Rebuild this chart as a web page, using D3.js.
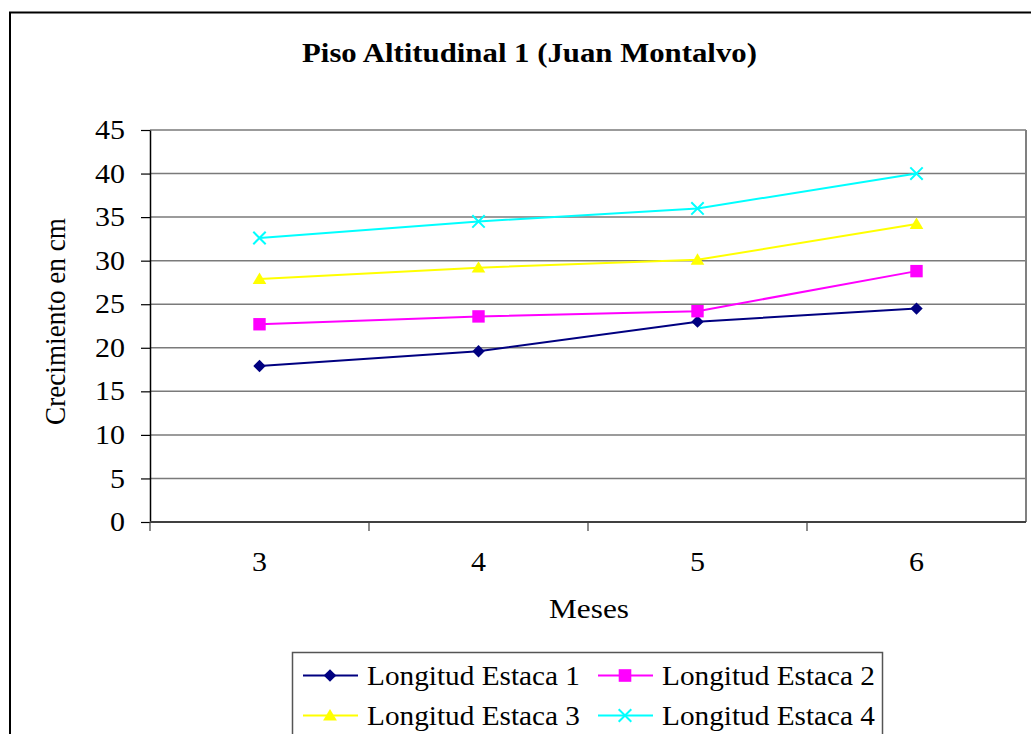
<!DOCTYPE html>
<html>
<head>
<meta charset="utf-8">
<script src="https://cdn.jsdelivr.net/npm/d3@7"></script>
<style>
  html, body { margin: 0; padding: 0; background: #fff; }
  svg { display: block; }
  text { font-family: "Liberation Serif", "Times New Roman", serif; fill: #000; }
</style>
</head>
<body>
<svg id="chart" width="1031" height="734"></svg>
<script>
// Months measured
const months = ["3", "4", "5", "6"];
// Stake length growth (cm) per series
const estaca1 = [17.9, 19.6, 23.0, 24.5];
const estaca2 = [22.7, 23.6, 24.2, 28.8];
const estaca3 = [27.9, 29.2, 30.1, 34.2];
const estaca4 = [32.6, 34.5, 36.0, 40.0];
const seriesNames = ["Longitud Estaca 1", "Longitud Estaca 2", "Longitud Estaca 3", "Longitud Estaca 4"];
const yTicks = [0, 5, 10, 15, 20, 25, 30, 35, 40, 45];

const series = [
  { name: seriesNames[0], values: estaca1, color: "#000080", marker: "diamond" },
  { name: seriesNames[1], values: estaca2, color: "#FF00FF", marker: "square" },
  { name: seriesNames[2], values: estaca3, color: "#FFFF00", marker: "triangle" },
  { name: seriesNames[3], values: estaca4, color: "#00FFFF", marker: "cross" }
];

const FONT = 27;      // base text size
const WIDEN = 1.11;   // text is set slightly wide

const svg = d3.select("#chart");
const plot = { left: 150, right: 1026, top: 130, bottom: 522 };

// Stretch text horizontally by a factor, keeping its anchor
function widen(sel, k) {
  sel.each(function () {
    const w = this.getComputedTextLength();
    d3.select(this).attr("textLength", w * k).attr("lengthAdjust", "spacingAndGlyphs");
  });
}

// Outer chart frame (extends past the page edge)
svg.append("rect")
  .attr("x", 10).attr("y", 12.5)
  .attr("width", 1040).attr("height", 760)
  .attr("fill", "#fff").attr("stroke", "#000").attr("stroke-width", 2);

// Title
svg.append("text")
  .attr("x", 529.5).attr("y", 62)
  .attr("text-anchor", "middle")
  .attr("font-weight", "bold")
  .attr("font-size", FONT)
  .text("Piso Altitudinal 1 (Juan Montalvo)")
  .call(widen, 1.14);

const x = d3.scaleBand().domain(months).range([plot.left, plot.right]).padding(0);
const y = d3.scaleLinear().domain([0, 45]).range([plot.bottom, plot.top]);

// Horizontal gridlines
svg.append("g").selectAll("line")
  .data(yTicks.filter(d => d > 0))
  .join("line")
  .attr("x1", plot.left).attr("x2", plot.right)
  .attr("y1", d => y(d)).attr("y2", d => y(d))
  .attr("stroke", "#7a7a7a").attr("stroke-width", 1.5);

// Plot area right border
svg.append("line")
  .attr("x1", plot.right).attr("x2", plot.right)
  .attr("y1", plot.top).attr("y2", plot.bottom)
  .attr("stroke", "#808080").attr("stroke-width", 2);

// Y axis
const yAxis = svg.append("g")
  .attr("transform", `translate(${plot.left},0)`)
  .call(d3.axisLeft(y).tickValues(yTicks).tickSize(9).tickPadding(16).tickSizeOuter(0));
yAxis.select(".domain").attr("stroke", "#000").attr("stroke-width", 1.5);
yAxis.selectAll(".tick line").attr("stroke", "#000").attr("stroke-width", 1.2);
yAxis.selectAll(".tick text")
  .attr("font-family", "Liberation Serif, serif")
  .attr("font-size", FONT).attr("fill", "#000")
  .call(widen, WIDEN);

// X axis: ticks at category boundaries, labels centred in each band
const bounds = months.map(m => x(m));
svg.append("g").selectAll("line")
  .data(bounds)
  .join("line")
  .attr("x1", d => d).attr("x2", d => d)
  .attr("y1", plot.bottom).attr("y2", plot.bottom + 9)
  .attr("stroke", "#404040").attr("stroke-width", 1.2);
svg.append("line")
  .attr("x1", plot.left).attr("x2", plot.right)
  .attr("y1", plot.bottom).attr("y2", plot.bottom)
  .attr("stroke", "#404040").attr("stroke-width", 2);
svg.append("g").selectAll("text")
  .data(months)
  .join("text")
  .attr("x", d => x(d) + x.bandwidth() / 2)
  .attr("y", 571)
  .attr("text-anchor", "middle")
  .attr("font-size", FONT)
  .text(d => d)
  .call(widen, WIDEN);

// Axis titles
svg.append("text")
  .attr("x", 589).attr("y", 618)
  .attr("text-anchor", "middle")
  .attr("font-size", FONT)
  .text("Meses")
  .call(widen, 1.16);
svg.append("text")
  .attr("transform", "translate(65,321.5) scale(1.12,1) rotate(-90)")
  .attr("text-anchor", "middle")
  .attr("font-size", FONT)
  .attr("textLength", 207)
  .attr("lengthAdjust", "spacingAndGlyphs")
  .text("Crecimiento en cm");

// Marker drawing helper
function drawMarker(g, type, color, cx, cy, s) {
  if (type === "diamond") {
    g.append("path")
      .attr("d", `M${cx},${cy - s}L${cx + s},${cy}L${cx},${cy + s}L${cx - s},${cy}Z`)
      .attr("fill", color);
  } else if (type === "square") {
    g.append("rect")
      .attr("x", cx - s).attr("y", cy - s)
      .attr("width", s * 2).attr("height", s * 2)
      .attr("fill", color);
  } else if (type === "triangle") {
    g.append("path")
      .attr("d", `M${cx},${cy - s * 1.05}L${cx + s * 1.1},${cy + s * 0.8}L${cx - s * 1.1},${cy + s * 0.8}Z`)
      .attr("fill", color);
  } else {
    g.append("path")
      .attr("d", `M${cx - s},${cy - s}L${cx + s},${cy + s}M${cx - s},${cy + s}L${cx + s},${cy - s}`)
      .attr("stroke", color).attr("stroke-width", 2).attr("fill", "none");
  }
}

// Series lines and markers
const line = d3.line()
  .x((d, i) => x(months[i]) + x.bandwidth() / 2)
  .y(d => y(d));

series.forEach(s => {
  const g = svg.append("g");
  g.append("path")
    .attr("d", line(s.values))
    .attr("fill", "none")
    .attr("stroke", s.color)
    .attr("stroke-width", 2);
  s.values.forEach((v, i) => {
    drawMarker(g, s.marker, s.color, x(months[i]) + x.bandwidth() / 2, y(v), 6.2);
  });
});

// Legend
const legend = svg.append("g");
legend.append("rect")
  .attr("x", 292.5).attr("y", 652.5)
  .attr("width", 590).attr("height", 100)
  .attr("fill", "#fff").attr("stroke", "#555").attr("stroke-width", 1.5);
series.forEach((s, i) => {
  const col = i % 2, row = Math.floor(i / 2);
  const lx = 303 + col * 295;
  const ly = 675.5 + row * 40;
  const g = legend.append("g");
  g.append("line")
    .attr("x1", lx).attr("x2", lx + 55)
    .attr("y1", ly).attr("y2", ly)
    .attr("stroke", s.color).attr("stroke-width", 2);
  drawMarker(g, s.marker, s.color, lx + 27, ly, 6.3);
  g.append("text")
    .attr("x", lx + 64).attr("y", ly + 9)
    .attr("font-size", FONT)
    .attr("textLength", 213)
    .attr("lengthAdjust", "spacingAndGlyphs")
    .text(s.name);
});
</script>
</body>
</html>
